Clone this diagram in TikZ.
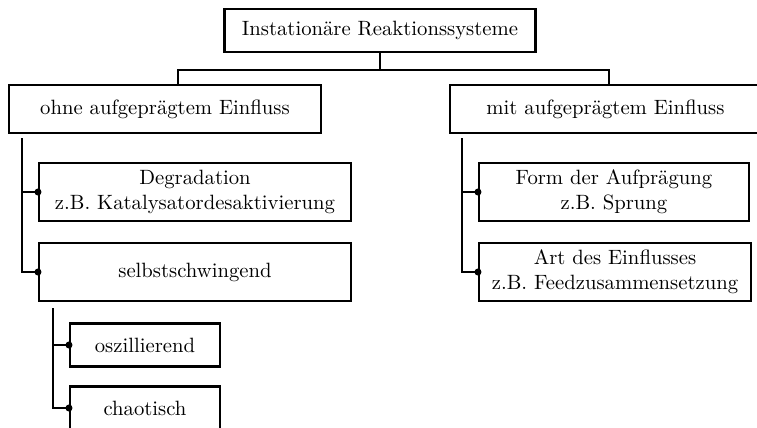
\documentclass[tikz,border=0pt]{standalone}
\usetikzlibrary{calc}
\def\pxu{0.4832pt}
\begin{document}
\begin{tikzpicture}[x=\pxu, y={(0,-\pxu)},
  box/.style={draw=black, line width=1pt, fill=white, inner sep=0pt, align=center,
    font=\normalsize},
  link/.style={draw=black, line width=0.7pt},
  joint/.style={circle, fill=black, inner sep=0pt, minimum size=3.4pt}]
\useasboundingbox (0,0) rectangle (757,427);
\clip (0,0) rectangle (757,427);

\node[box, minimum width=311*\pxu, minimum height=43*\pxu] (root) at (380,30.5) {Instationäre Reaktionssysteme};
\node[box, minimum width=312*\pxu, minimum height=48*\pxu] (ohne) at (165,109) {ohne aufgeprägtem Einfluss};
\node[box, minimum width=311*\pxu, minimum height=48*\pxu] (mit) at (605.5,109) {mit aufgeprägtem Einfluss};

\node[box, minimum width=312*\pxu, minimum height=58*\pxu] (deg) at (195,192) {Degradation\\z.B. Katalysatordesaktivierung};
\node[box, minimum width=312*\pxu, minimum height=58*\pxu] (selbst) at (195,272) {selbstschwingend};
\node[box, minimum width=150*\pxu, minimum height=43*\pxu] (osz) at (145,345) {oszillierend};
\node[box, minimum width=150*\pxu, minimum height=43*\pxu] (chaos) at (145,408) {chaotisch};

\node[box, minimum width=270*\pxu, minimum height=58*\pxu] (form) at (614,192) {Form der Aufprägung\\z.B. Sprung};
\node[box, minimum width=272*\pxu, minimum height=58*\pxu] (art) at (615,272) {Art des Einflusses\\z.B. Feedzusammensetzung};

% top bus
\coordinate (bus) at ($(root.south)+(0,17)$);
\coordinate (ldrop) at ($(ohne.north west)+(170,0)$);
\coordinate (rdrop) at ($(mit.north west)+(160,0)$);
\draw[link] (root.south) -- (bus);
\draw[link] (bus) -| (ldrop);
\draw[link] (bus) -| (rdrop);

% left subtree
\coordinate (lv) at ($(ohne.south west)+(14,4)$);
\draw[link] (lv) |- (deg.west);
\draw[link] (lv) |- (selbst.west);
\node[joint] (d1) at (deg.west) {};
\node[joint] (d2) at (selbst.west) {};

\coordinate (sv) at ($(selbst.south west)+(15,6)$);
\draw[link] (sv) |- (osz.west);
\draw[link] (sv) |- (chaos.west);
\node[joint] (d3) at (osz.west) {};
\node[joint] (d4) at (chaos.west) {};

% right subtree
\coordinate (rv) at ($(mit.south west)+(13,4)$);
\draw[link] (rv) |- (form.west);
\draw[link] (rv) |- (art.west);
\node[joint] (d5) at (form.west) {};
\node[joint] (d6) at (art.west) {};
\end{tikzpicture}
\end{document}
